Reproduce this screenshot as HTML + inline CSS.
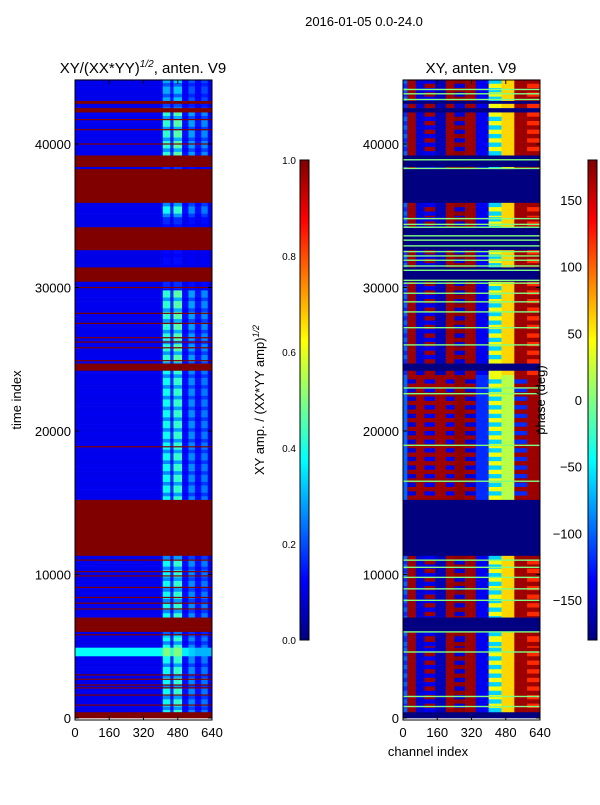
<!DOCTYPE html>
<html><head><meta charset="utf-8"><style>
body{margin:0;background:#fff;font-family:"Liberation Sans",sans-serif}
svg text{font-family:"Liberation Sans",sans-serif;fill:#000}
</style></head><body>
<svg id="fig" width="600" height="800" xmlns="http://www.w3.org/2000/svg">
<defs>
<linearGradient id="jet" x1="0" y1="1" x2="0" y2="0">
<stop offset="0" stop-color="#000080"/><stop offset="0.125" stop-color="#0000ff"/><stop offset="0.375" stop-color="#00ffff"/><stop offset="0.5" stop-color="#80ff80"/><stop offset="0.625" stop-color="#ffff00"/><stop offset="0.875" stop-color="#ff0000"/><stop offset="1" stop-color="#800000"/>
</linearGradient>
</defs>
<text x="364" y="26" font-size="13" text-anchor="middle">2016-01-05 0.0-24.0</text>
<text x="143" y="73" font-size="15" text-anchor="middle">XY/(XX*YY)<tspan font-size="10" font-style="italic" dy="-6">1/2</tspan><tspan dy="6">, anten. V9</tspan></text>
<text x="471" y="73" font-size="15" text-anchor="middle">XY, anten. V9</text>
<g id="left"></g>
<g id="right"></g>
<g id="axes"></g>
<text transform="translate(21,400) rotate(-90)" font-size="13" text-anchor="middle">time index</text>
<text x="428" y="756" font-size="13" text-anchor="middle">channel index</text>
<rect x="300" y="160" width="9" height="480" fill="url(#jet)" stroke="#000" stroke-width="1"/>
<rect x="588" y="160" width="9" height="480" fill="url(#jet)" stroke="#000" stroke-width="1"/>
<text transform="translate(264,400) rotate(-90)" font-size="13" text-anchor="middle">XY amp. / (XX*YY amp)<tspan font-size="9" font-style="italic" dy="-5">1/2</tspan></text>
<text transform="translate(545,400) rotate(-90)" font-size="13" text-anchor="middle">phase (deg)</text>
</svg>
<script>
const bands=[[44.5,43.0,'D',0.6],[43.0,42.8,'F',1],[42.8,42.5,'D',0.5],[42.5,42.2,'F',1],[42.2,39.2,'D',1],[39.2,38.4,'F',1],[38.4,38.25,'D',0.2],[38.25,35.9,'F',1],[35.9,34.9,'D',0.9],[34.9,34.2,'D',0.2],[34.2,32.6,'F',1],[32.6,31.4,'D',0.1],[31.4,30.4,'F',1],[30.4,29.8,'D',0.2],[29.8,24.7,'D',1],[24.7,24.2,'F',1],[24.2,15.2,'D',0.9],[15.2,11.3,'F',1],[11.3,7.0,'D',0.9],[7.0,6.3,'F',1],[6.3,6.0,'F',1],[6.0,5.6,'D',0.7],[5.6,4.9,'D',0.9],[4.9,4.3,'S',1],[4.3,0.4,'D',0.9],[0.4,0,'F',1]];
const flagLines=[41.7,41.0,40.0,33.4,32.9,30.0,28.2,27.5,26.5,26.2,25.8,24.9,18.9,11.0,10.2,9.9,9.1,8.4,8.0,7.6,5.8,3.0,2.7,2.3,2.1,1.6,0.9,0.35];
const ampChanEdges=[0,400,410,445,460,500,530,560,590,620,640];
const ampChanVals=[0.11,0.13,0.42,0.17,0.46,0.14,0.28,0.14,0.26,0.11];
const stripeVals=[0.38,0.38,0.5,0.42,0.5,0.36,0.33,0.3,0.3,0.3];
const phaseChanEdges=[0,20,60,100,150,200,240,290,340,400,460,520,580,640];
const phaseProfA=[-120,170,-150,170,-160,170,-150,170,-140,40,60,170,120];
const phaseProfB=[-100,-150,170,-140,170,-140,175,-150,-120,-60,20,-120,170];
const greenLines=[43.8,43.5,43.1,38.9,38.3,34.8,34.4,34.2,33.6,33.3,32.9,32.5,32.2,31.9,31.5,31.2,30.5,30.3,29.6,29.0,28.3,27.2,26.0,23.0,22.6,19.0,16.5,11.0,10.5,9.8,9.0,8.2,6.0,4.6,1.5,0.8];
const yTicks=[0,10000,20000,30000,40000];
const xTicks=[0,160,320,480,640];
const ampTicks=[0,0.2,0.4,0.6,0.8,1.0];
const phaseTicks=[-150,-100,-50,0,50,100,150];

const NS='http://www.w3.org/2000/svg';
const yS=t=>718-t*1000/10000*143.5;
const xL=c=>75+c/640*137, xR=c=>403+c/640*137;
function jet(v){v=Math.max(0,Math.min(1,v));
 const st=[[0,0,0,128],[0.125,0,0,255],[0.375,0,255,255],[0.5,128,255,128],[0.625,255,255,0],[0.875,255,0,0],[1,128,0,0]];
 for(let i=1;i<st.length;i++){if(v<=st[i][0]){const a=st[i-1],b=st[i],f=(v-a[0])/(b[0]-a[0]);
 return `rgb(${Math.round(a[1]+f*(b[1]-a[1]))},${Math.round(a[2]+f*(b[2]-a[2]))},${Math.round(a[3]+f*(b[3]-a[3]))})`;}}return '#800000';}
function rect(g,x,y,w,h,fill,name){const r=document.createElementNS(NS,'rect');
 r.setAttribute('x',x);r.setAttribute('y',y);r.setAttribute('width',w);r.setAttribute('height',h);r.setAttribute('fill',fill);
 
 
 g.appendChild(r);}
const L=document.getElementById('left'),R=document.getElementById('right');
bands.forEach(b=>{const y0=yS(b[0]),h=yS(b[1])-y0;
 if(b[2]==='F'){rect(L,xL(0),y0,137,h+0.3,jet(1),'amp-flag-band');}
 else if(b[2]==='S'){for(let i=0;i<stripeVals.length;i++){rect(L,xL(ampChanEdges[i]),y0,xL(ampChanEdges[i+1])-xL(ampChanEdges[i])+0.3,h+0.3,jet(stripeVals[i]),'amp-cell');}}
 else{const step=0.25;for(let t=b[0];t>b[1]+1e-6;t-=step){const t1=Math.max(b[1],t-step),m=(Math.round(t/step)%3===0)?0.55:1;
  for(let i=0;i<ampChanVals.length;i++){const v=0.1+(ampChanVals[i]-0.1)*b[3]*m;
  rect(L,xL(ampChanEdges[i]),yS(t),xL(ampChanEdges[i+1])-xL(ampChanEdges[i])+0.3,yS(t1)-yS(t)+0.3,jet(v),'amp-cell');}}}
 if(b[2]==='F'){rect(R,xR(0),y0,137,h+0.3,jet(0),'phase-flag-band');}
 else{const step=0.3;for(let t=b[0];t>b[1]+1e-6;t-=step){const t1=Math.max(b[1],t-step),k=Math.round(t/step)%2;
  const prof=(t<24.2&&t>15.2)?(k?phaseProfB:phaseProfA.map((p,i)=>i%2?p:phaseProfB[i])):(k?phaseProfA:phaseProfB.map((p,i)=>i%3?phaseProfA[i]:p));
  for(let i=0;i<prof.length;i++){rect(R,xR(phaseChanEdges[i]),yS(t),xR(phaseChanEdges[i+1])-xR(phaseChanEdges[i])+0.3,yS(t1)-yS(t)+0.3,jet((prof[i]+180)/360),'phase-cell');}}}
});
flagLines.forEach(t=>rect(L,xL(0),yS(t)-0.6,137,1.2,jet(1),'amp-flag-line'));
greenLines.forEach(t=>rect(R,xR(0),yS(t)-0.7,137,1.4,jet(0.5),'phase-green-line'));
const A=document.getElementById('axes');
function txt(x,y,s,anchor,name,fs){const e=document.createElementNS(NS,'text');e.setAttribute('x',x);e.setAttribute('y',y);e.setAttribute('font-size',fs||'13');e.setAttribute('text-anchor',anchor);e.textContent=s;
 
 
 A.appendChild(e);}
function line(x1,y1,x2,y2,name){const e=document.createElementNS(NS,'line');e.setAttribute('x1',x1);e.setAttribute('y1',y1);e.setAttribute('x2',x2);e.setAttribute('y2',y2);e.setAttribute('stroke','#000');
 
 
 A.appendChild(e);}
[[75,xL],[403,xR]].forEach(([x0,xs])=>{
 const fr=document.createElementNS(NS,'rect');fr.setAttribute('x',x0);fr.setAttribute('y',80);fr.setAttribute('width',137);fr.setAttribute('height',640);fr.setAttribute('fill','none');fr.setAttribute('stroke','#000');
 
 
 A.appendChild(fr);
 yTicks.forEach(t=>{const y=yS(t/1000);line(x0,y,x0+4,y,'y-tick');line(x0+137,y,x0+133,y,'y-tick');txt(x0-4,y+5,String(t),'end','y-tick-label');});
 xTicks.forEach(c=>{const x=xs(c);line(x,720,x,716,'x-tick');line(x,80,x,84,'x-tick');txt(x,737,String(c),'middle','x-tick-label');});
});
ampTicks.forEach(v=>{const y=640-v*480;line(300,y,303,y,'cbar-tick');line(309,y,306,y,'cbar-tick');txt(296,y+4,v.toFixed(1),'end','amp-cbar-tick-label','10');});
phaseTicks.forEach(v=>{const y=400-v*480/360;line(597,y,594,y,'cbar-tick');line(588,y,591,y,'cbar-tick');txt(582,y+5,String(v).replace('-','\u2212'),'end','phase-cbar-tick-label');});
</script>
</body></html>
